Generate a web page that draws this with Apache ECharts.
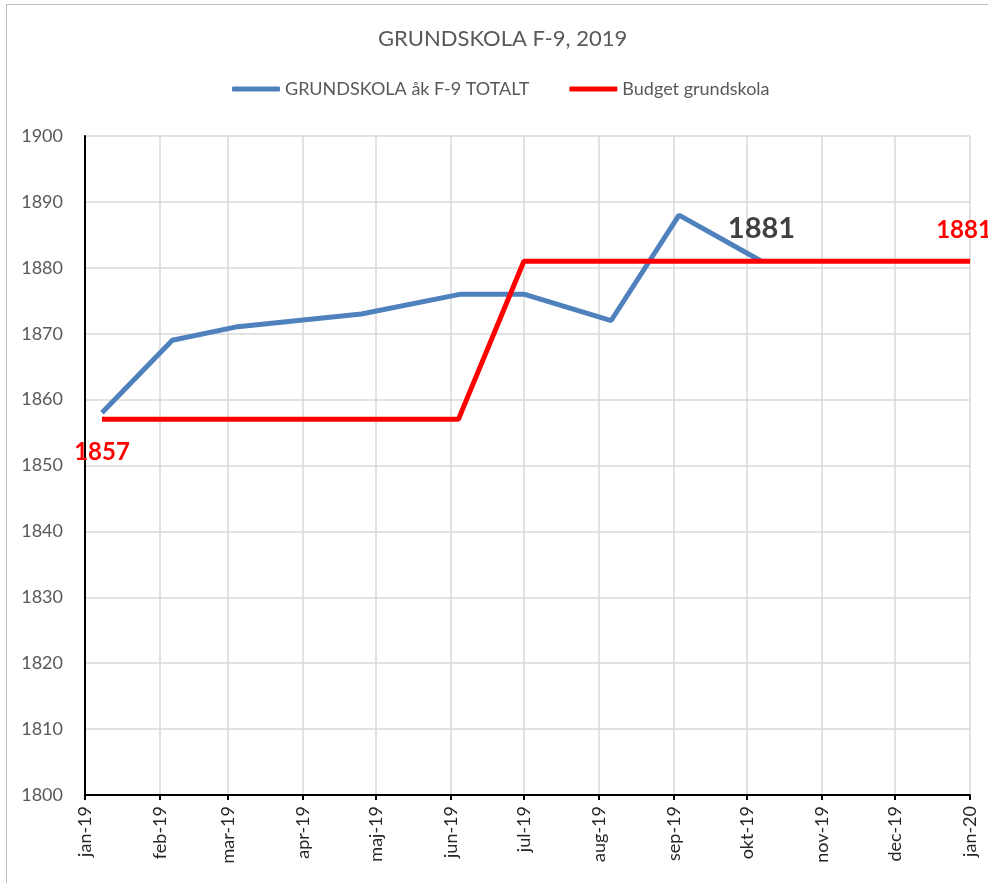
<!DOCTYPE html>
<html>
<head>
<meta charset="utf-8">
<title>GRUNDSKOLA F-9, 2019</title>
<script src="https://cdn.jsdelivr.net/npm/echarts@6/dist/echarts.min.js"></script>
<style>
  html, body { margin: 0; padding: 0; background: #fff; overflow: hidden; }
  #frame { position: absolute; left: 6px; top: 4px; width: 1100px; height: 884px; border: 1px solid #bfbfbf; }
  #chart { position: absolute; left: 0; top: 0; width: 988px; height: 883px; }
</style>
</head>
<body>
<div id="frame"></div>
<div id="chart"></div>
<script>
// tick labels (Swedish month abbreviations)
const monthNames = ['jan', 'feb', 'mar', 'apr', 'maj', 'jun', 'jul', 'aug', 'sep', 'okt', 'nov', 'dec']

// GRUNDSKOLA åk F-9 TOTALT
const actualDates = ['2019-01-08', '2019-02-06', '2019-03-04', '2019-04-25', '2019-06-05', '2019-07-01', '2019-08-06', '2019-09-03', '2019-10-07']
const actualValues = [1858, 1869, 1871, 1873, 1876, 1876, 1872, 1888, 1881]

// Budget grundskola
const budgetDates = ['2019-01-08', '2019-06-04', '2019-07-01', '2020-01-01']
const budgetValues = [1857, 1857, 1881, 1881]

const FONT = 'Lato'
const DAY = 24 * 3600 * 1000

// only some points carry a value label
function buildData(dates, values, labels) {
  return dates.map((d, i) => {
    const item = { value: [d, values[i]] }
    if (labels[i]) item.label = labels[i]
    return item
  })
}

const actualLabels = {}
actualLabels[actualValues.length - 1] = {
  show: true, position: 'top', distance: 18,
  color: '#404040', fontSize: 29, fontWeight: 'bold', fontFamily: FONT
}

const budgetLabels = {}
budgetLabels[0] = {
  show: true, position: 'bottom', distance: 21,
  color: '#ff0000', fontSize: 24, fontWeight: 'bold', fontFamily: FONT
}
budgetLabels[budgetValues.length - 1] = {
  show: true, position: 'top', distance: 19, offset: [-6, 0],
  color: '#ff0000', fontSize: 24, fontWeight: 'bold', fontFamily: FONT
}

const myChart = echarts.init(document.getElementById('chart'), null, { renderer: 'canvas' })

const option = {
  animation: false,
  textStyle: { fontFamily: FONT },
  title: {
    text: 'GRUNDSKOLA F-9, 2019',
    left: 378,
    top: 28,
    padding: 0,
    textStyle: { color: '#595959', fontSize: 22, fontWeight: 'normal', fontFamily: FONT }
  },
  legend: {
    left: 232,
    top: 80,
    padding: 0,
    icon: 'roundRect',
    itemWidth: 48,
    itemHeight: 5,
    itemGap: 40,
    textStyle: { color: '#595959', fontSize: 18, fontFamily: FONT }
  },
  grid: { left: 85, right: 18, top: 136, bottom: 88 },
  xAxis: {
    type: 'time',
    min: new Date(2019, 0, 1).getTime(),
    max: new Date(2020, 0, 1).getTime(),
    splitNumber: 12,
    minInterval: 28 * DAY,
    maxInterval: 31 * DAY,
    axisLine: { lineStyle: { color: '#000', width: 2 } },
    axisTick: { show: true, length: 5, lineStyle: { color: '#000', width: 2 } },
    axisLabel: {
      rotate: 90,
      margin: 11,
      color: '#262626',
      fontSize: 18,
      fontFamily: FONT,
      hideOverlap: false,
      showMinLabel: true,
      showMaxLabel: true,
      formatter: function (value) {
        const d = new Date(value)
        return monthNames[d.getMonth()] + '-' + String(d.getFullYear()).slice(2)
      }
    },
    splitLine: { show: true, lineStyle: { color: '#d9d9d9', width: 1.5 } }
  },
  yAxis: {
    type: 'value',
    min: 1800,
    max: 1900,
    interval: 10,
    axisLine: { show: true, lineStyle: { color: '#000', width: 2 } },
    axisTick: { show: false },
    axisLabel: {
      color: '#595959', fontSize: 18, fontFamily: FONT, margin: 22,
      formatter: function (v) { return String(v) }
    },
    splitLine: { show: true, lineStyle: { color: '#d9d9d9', width: 1.5 } }
  },
  series: [
    {
      name: 'GRUNDSKOLA åk F-9 TOTALT',
      type: 'line',
      data: buildData(actualDates, actualValues, actualLabels),
      showSymbol: true,
      symbol: 'circle',
      symbolSize: 0,
      color: '#4f81bd',
      lineStyle: { width: 5, color: '#4f81bd' },
      z: 3
    },
    {
      name: 'Budget grundskola',
      type: 'line',
      data: buildData(budgetDates, budgetValues, budgetLabels),
      showSymbol: true,
      symbol: 'circle',
      symbolSize: 0,
      color: '#ff0000',
      lineStyle: { width: 5, color: '#ff0000' },
      z: 4
    }
  ]
}

myChart.setOption(option)
</script>
</body>
</html>
